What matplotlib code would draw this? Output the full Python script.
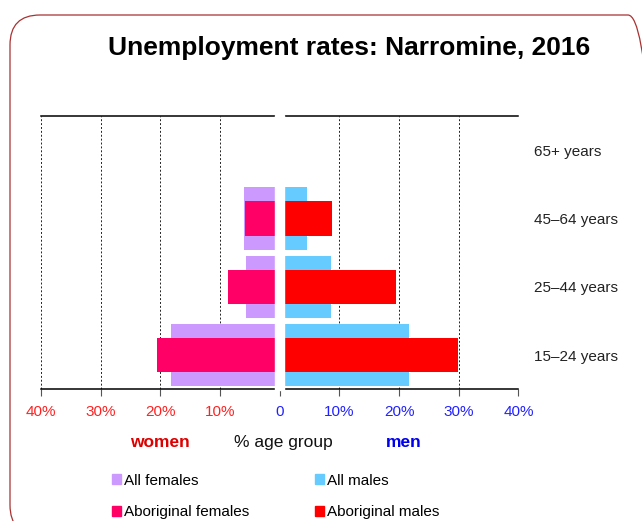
import matplotlib
matplotlib.use('Agg')
import matplotlib.pyplot as plt
from matplotlib.patches import Patch, FancyBboxPatch
from matplotlib.transforms import IdentityTransform


age_groups = ['15–24 years', '25–44 years', '45–64 years', '65+ years']

all_females = [18.3, 5.6, 6.0, 0]
aboriginal_females = [20.5, 8.7, 5.9, 0]
all_males = [21.6, 8.6, 4.6, 0]
aboriginal_males = [29.9, 19.5, 8.7, 0]

x_ticks = [-40, -30, -20, -10, 0, 10, 20, 30, 40]
x_tick_labels = ['40%', '30%', '20%', '10%', '0', '10%', '20%', '30%', '40%']

title = 'Unemployment rates: Narromine, 2016'


def plot_unemployment(save_filepath):
    plt.rcParams['font.family'] = ['Liberation Sans', 'DejaVu Sans']

    fig = plt.figure(figsize=(6.42, 5.21), dpi=100)
    ax = fig.add_axes([0.0639, 0.2528, 0.7436, 0.5246])

    y = list(range(len(age_groups)))

    # women to the left of zero, men to the right
    ax.barh(y, [-v for v in all_females], height=0.91, color='#CC99FF', zorder=2)
    ax.barh(y, [-v for v in aboriginal_females], height=0.5, color='#FF0066', zorder=2)
    ax.barh(y, all_males, height=0.91, color='#66CCFF', zorder=2)
    ax.barh(y, aboriginal_males, height=0.5, color='#FF0000', zorder=2)

    # white gap down the middle, like the original
    ax.axvspan(-0.75, 0.75, ymin=-0.004, ymax=1.004, color='white', zorder=3, clip_on=False)

    ax.set_xlim(-40, 40)
    ax.set_ylim(-0.5, 3.5)

    for t in [-40, -30, -20, -10, 10, 20, 30, 40]:
        ax.axvline(t, color='#222222', lw=0.7, ls=(0, (2, 2)), zorder=1)

    ax.spines['left'].set_visible(False)
    ax.spines['right'].set_visible(False)
    ax.spines['top'].set_linewidth(1.1)
    ax.spines['bottom'].set_linewidth(1.1)

    ax.set_xticks(x_ticks)
    ax.set_xticklabels(x_tick_labels, fontsize=11)
    ax.tick_params(axis='x', direction='out', length=5, width=0.8, pad=6, color='#555555')
    for lbl, t in zip(ax.get_xticklabels(), x_ticks):
        lbl.set_color('#FF2222' if t < 0 else '#2222FF')

    ax.yaxis.tick_right()
    ax.set_yticks(y)
    ax.set_yticklabels(age_groups, fontsize=11, color='#222222')
    ax.tick_params(axis='y', length=0, pad=11)

    fig.text(0.5436, 0.908, title, fontsize=19, fontweight='bold', ha='center', va='center')

    fig.text(0.249, 0.1516, 'women', fontsize=12.5, fontweight='bold', color='#DD0000', ha='center', va='center')
    fig.text(0.4408, 0.1516, '% age group', fontsize=12.5, color='#111111', ha='center', va='center')
    fig.text(0.629, 0.1516, 'men', fontsize=12.5, fontweight='bold', color='#0000EE', ha='center', va='center')

    handles = [
        Patch(color='#CC99FF', label='All females'),
        Patch(color='#FF0066', label='Aboriginal females'),
        Patch(color='#66CCFF', label='All males'),
        Patch(color='#FF0000', label='Aboriginal males'),
    ]
    fig.legend(handles=handles, ncol=2, loc='center left', bbox_to_anchor=(0.1745, 0.047),
               frameon=False, fontsize=11, handlelength=0.6, handleheight=0.6,
               handletextpad=0.2, columnspacing=4.3, labelspacing=1.15,
               borderpad=0, borderaxespad=0)

    # rounded frame round the whole chart, cut off on the right and bottom
    frame = FancyBboxPatch((10, -14), 648, 520, boxstyle='round,pad=0,rounding_size=30',
                           transform=IdentityTransform(), fill=False, edgecolor='#A83232', lw=0.9)
    fig.patches.append(frame)

    fig.savefig(save_filepath, dpi=100)


if __name__ == '__main__':
    plot_unemployment('out.png')
